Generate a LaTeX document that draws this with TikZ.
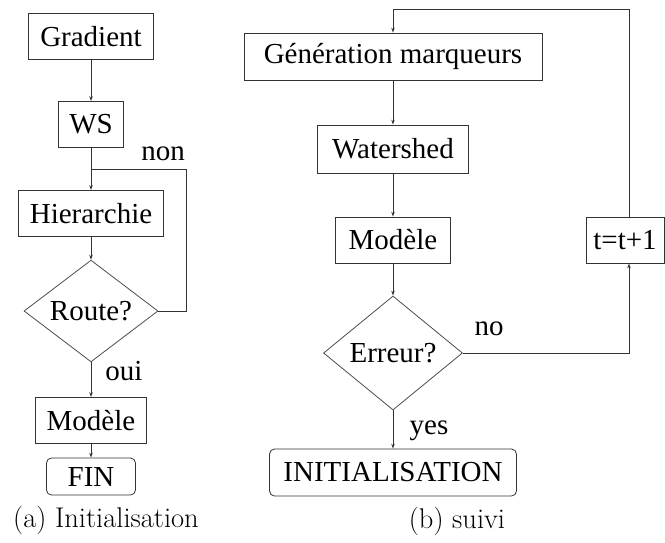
\documentclass[tikz,border=0pt]{standalone}
\usepackage{fontspec}
\setmainfont{Liberation Serif}
\newfontfamily\lmfont{Latin Modern Roman}
\usetikzlibrary{shapes.geometric,arrows.meta,calc}
\begin{document}
\begin{tikzpicture}
            [x=1pt, y=-1pt,
             box/.style = {draw=black!80, line width=0.8pt, inner sep=0pt, minimum height=46pt,
                           font=\rmfamily\fontsize{29}{32}\selectfont},
             endbox/.style = {box, rounded corners=5pt},
             test/.style = {draw=black!70, line width=0.8pt, diamond, inner sep=0pt,
                            font=\rmfamily\fontsize{29}{32}\selectfont},
             lbl/.style = {font=\rmfamily\fontsize{29}{32}\selectfont, inner sep=0pt},
             arr/.style = {draw=black!80, line width=0.8pt, -{Stealth[length=5pt,width=3.5pt]}},
             subcap/.style = {font=\lmfont\fontsize{28.5}{32}\selectfont, inner sep=0pt}]
            \useasboundingbox (0,0) rectangle (665,542);
            % (a) initialisation
            \node[box, minimum width=125pt] (grad) at (91,36.5) {Gradient};
            \node[box, minimum width=65pt] (ws) [below of=grad, node distance=88pt] {WS};
            \node[box, minimum width=145pt] (hier) [below of=ws, node distance=89pt] {Hierarchie};
            \node[test, minimum width=134pt, minimum height=90pt] (route) [below of=hier, node distance=97.5pt] {Route?};
            \node[box, minimum width=111pt] (modA) [below of=route, node distance=109.5pt] {Modèle};
            \node[endbox, minimum width=89pt, minimum height=37pt] (fin) [below of=modA, node distance=56pt] {FIN};
            \coordinate (j) at ($(ws.south)!0.5!(hier.north)$);
            \draw[arr] (grad) -- (ws);
            \draw[arr] (ws) -- (hier);
            \draw[arr] (hier) -- (route);
            \draw[arr] (route) -- (modA);
            \draw[arr] (modA) -- (fin);
            \draw[draw=black!80, line width=0.8pt] (route.east) -- ++(28,0) |- (j);
            \node[lbl] (non) at (163,154) {non};
            \node[lbl] (oui) at (124,371) {oui};
            \node[subcap] (capA) at (106,520) {(a) Initialisation};
            % (b) suivi
            \node[box, minimum width=298pt, minimum height=47pt] (gen) at (393,56.5) {Génération marqueurs};
            \node[box, minimum width=151pt, minimum height=48pt] (wat) [below of=gen, node distance=92.5pt] {Watershed};
            \node[box, minimum width=115pt] (modB) [below of=wat, node distance=91pt] {Modèle};
            \node[box, minimum width=78pt] (tinc) [right of=modB, node distance=232pt] {t=t+1};
            \node[test, minimum width=139pt, minimum height=114pt] (err) [below of=modB, node distance=113pt] {Erreur?};
            \node[endbox, minimum width=247pt, minimum height=47pt] (init) [below of=err, node distance=119.5pt] {INITIALISATION};
            \draw[arr] (gen) -- (wat);
            \draw[arr] (wat) -- (modB);
            \draw[arr] (modB) -- (err);
            \draw[arr] (err) -- (init);
            \draw[arr] (err.east) -| ([xshift=4pt]tinc.south);
            \draw[arr] ([xshift=4pt]tinc.north) -- ++(0,-207) -| (gen.north);
            \node[lbl] (no) at (489,329) {no};
            \node[lbl] (yes) at (429,431) {yes};
            \node[subcap] (capB) at (457,521) {(b) suivi};
        \end{tikzpicture}
\end{document}
